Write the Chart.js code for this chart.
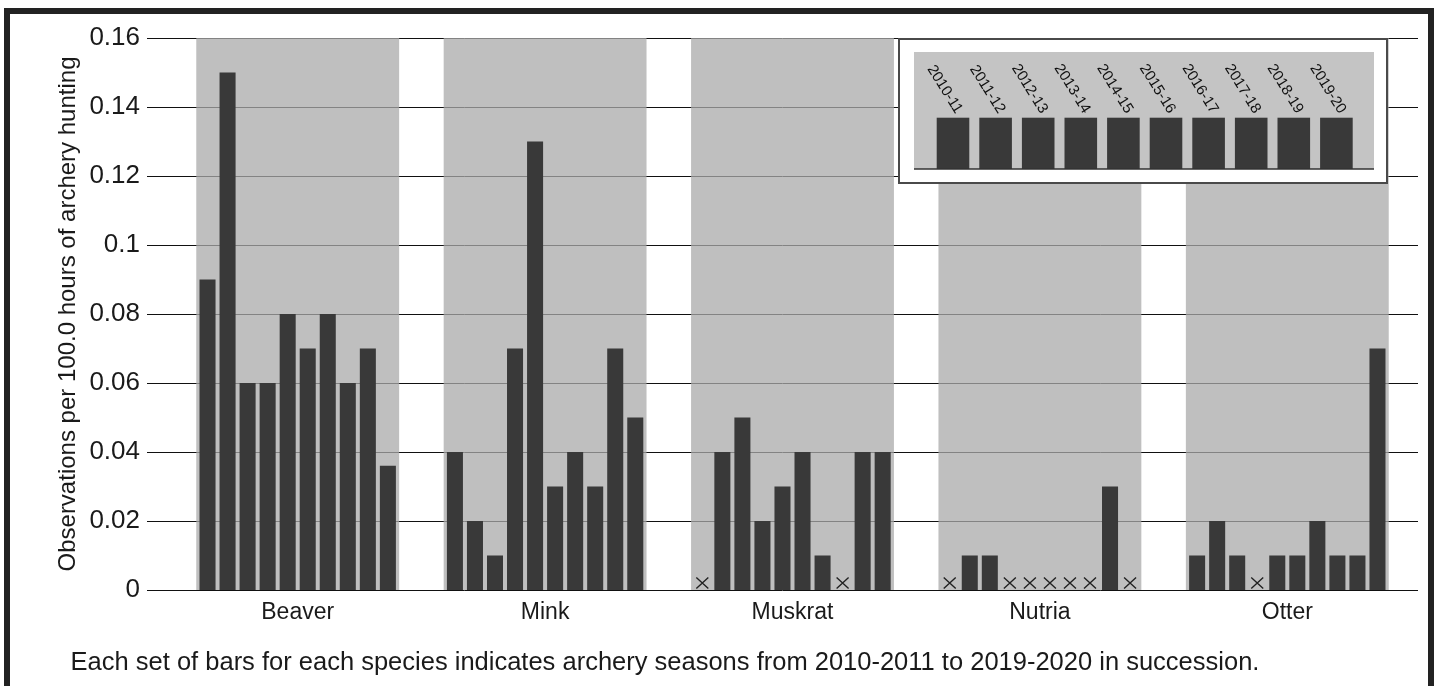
<!DOCTYPE html>
<html>
<head>
<meta charset="utf-8">
<title>Archery hunting observations</title>
<script src="https://cdn.jsdelivr.net/npm/chart.js@4.4.1/dist/chart.umd.min.js"></script>
<style>
  html, body { margin: 0; padding: 0; background: #fff; }
  #wrap { position: relative; width: 1438px; height: 686px; overflow: hidden; }
  #frame { position: absolute; left: 4px; top: 8px; width: 1418px; height: 700px;
           border: 6px solid #222; pointer-events: none; }
  canvas { display: block; }
</style>
</head>
<body>
<div id="wrap">
  <canvas id="chart" width="1438" height="686"></canvas>
  <div id="frame"></div>
</div>
<script>
// Species along the x axis
const species = ['Beaver', 'Mink', 'Muskrat', 'Nutria', 'Otter'];

// Archery seasons, one bar per season inside each species group
const seasons = ['2010-11', '2011-12', '2012-13', '2013-14', '2014-15',
                 '2015-16', '2016-17', '2017-18', '2018-19', '2019-20'];

// Observations per 100 hours, per species (Beaver, Mink, Muskrat, Nutria, Otter).
// null = no observations that season (marked with an ×)
const s2010_11 = [0.09,  0.04, null, null, 0.01];
const s2011_12 = [0.15,  0.02, 0.04, 0.01, 0.02];
const s2012_13 = [0.06,  0.01, 0.05, 0.01, 0.01];
const s2013_14 = [0.06,  0.07, 0.02, null, null];
const s2014_15 = [0.08,  0.13, 0.03, null, 0.01];
const s2015_16 = [0.07,  0.03, 0.04, null, 0.01];
const s2016_17 = [0.08,  0.04, 0.01, null, 0.02];
const s2017_18 = [0.06,  0.03, null, null, 0.01];
const s2018_19 = [0.07,  0.07, 0.04, 0.03, 0.01];
const s2019_20 = [0.036, 0.05, 0.04, null, 0.07];

const seasonValues = [s2010_11, s2011_12, s2012_13, s2013_14, s2014_15,
                      s2015_16, s2016_17, s2017_18, s2018_19, s2019_20];

// y axis ticks and labels
const yTicks = [0, 0.02, 0.04, 0.06, 0.08, 0.1, 0.12, 0.14, 0.16];
const yTickLabels = ['0', '0.02', '0.04', '0.06', '0.08', '0.1', '0.12', '0.14', '0.16'];

const yTitle = 'Observations per 100.0 hours of archery hunting';
const footnote = 'Each set of bars for each species indicates archery seasons from 2010-2011 to 2019-2020 in succession.';

const FONT = '"Liberation Sans", Arial, Helvetica, sans-serif';
const TEXT = '#1a1a1a';
const BAR = '#393939';
const BAND = 'rgba(170,170,170,0.75)';

Chart.defaults.font.family = FONT;
Chart.defaults.color = TEXT;

// Horizontal grid lines, slightly wider than the plotting area
const gridLines = {
  id: 'gridLines',
  beforeDatasetsDraw(chart) {
    const { ctx, chartArea, scales: { y } } = chart;
    ctx.save();
    ctx.strokeStyle = '#111';
    ctx.lineWidth = 1;
    y.ticks.forEach(t => {
      const py = Math.round(y.getPixelForValue(t.value)) + 0.5;
      ctx.beginPath();
      ctx.moveTo(chartArea.left - 27, py);
      ctx.lineTo(chartArea.right + 7, py);
      ctx.stroke();
    });
    ctx.restore();
  }
};

// × marks on the baseline for seasons with no observations
const noDataMarks = {
  id: 'noDataMarks',
  afterDatasetsDraw(chart) {
    const { ctx, scales: { y } } = chart;
    const base = y.getPixelForValue(0);
    ctx.save();
    ctx.strokeStyle = '#222';
    ctx.lineWidth = 1.4;
    chart.data.datasets.forEach((ds, di) => {
      if (!ds.season) return;
      const meta = chart.getDatasetMeta(di);
      ds.data.forEach((v, i) => {
        if (v !== null) return;
        const el = meta.data[i];
        if (!el) return;
        const cx = el.x, cy = base - 7;
        ctx.beginPath();
        ctx.moveTo(cx - 6, cy - 5.5); ctx.lineTo(cx + 6, cy + 5.5);
        ctx.moveTo(cx + 6, cy - 5.5); ctx.lineTo(cx - 6, cy + 5.5);
        ctx.stroke();
      });
    });
    ctx.restore();
  }
};

// Explanatory note under the species labels
const footnoteText = {
  id: 'footnoteText',
  afterDraw(chart) {
    const { ctx } = chart;
    ctx.save();
    ctx.fillStyle = TEXT;
    ctx.font = '25.5px ' + FONT;
    ctx.textAlign = 'center';
    ctx.textBaseline = 'middle';
    ctx.fillText(footnote, 665, 663);
    ctx.restore();
  }
};

// Season key in the upper right corner
const seasonKey = {
  id: 'seasonKey',
  afterDraw(chart) {
    const { ctx } = chart;
    ctx.save();
    // frame
    ctx.fillStyle = '#fff';
    ctx.fillRect(898, 38, 490, 146);
    ctx.strokeStyle = '#4a4a4a';
    ctx.lineWidth = 2;
    ctx.strokeRect(899, 39, 488, 144);
    // shaded panel
    ctx.fillStyle = '#c4c4c4';
    ctx.fillRect(914, 52, 460, 117);
    // bars and labels
    const barW = 32.6, step = 42.6, x0 = 936.7, top = 117.7, bottom = 169;
    seasons.forEach((s, i) => {
      const bx = x0 + i * step;
      ctx.fillStyle = BAR;
      ctx.fillRect(bx, top, barW, bottom - top);
      ctx.save();
      ctx.translate(bx + barW / 2 + 6, top - 5.5);
      ctx.rotate(58 * Math.PI / 180);
      ctx.fillStyle = '#111';
      ctx.font = '15px ' + FONT;
      ctx.textAlign = 'right';
      ctx.textBaseline = 'middle';
      ctx.fillText(s, 0, 0);
      ctx.restore();
    });
    // baseline
    ctx.strokeStyle = '#333';
    ctx.lineWidth = 1.5;
    ctx.beginPath();
    ctx.moveTo(914, 169);
    ctx.lineTo(1374, 169);
    ctx.stroke();
    ctx.restore();
  }
};

const datasets = [
  // grey band behind each species group
  {
    label: 'band',
    data: species.map(() => yTicks[yTicks.length - 1]),
    backgroundColor: BAND,
    grouped: false,
    barPercentage: 1,
    categoryPercentage: 0.82,
    order: 10
  },
  ...seasons.map((s, i) => ({
    label: s,
    season: true,
    data: seasonValues[i],
    backgroundColor: BAR,
    borderWidth: 0,
    barPercentage: 0.8,
    categoryPercentage: 0.81,
    order: 0
  }))
];

new Chart(document.getElementById('chart'), {
  type: 'bar',
  data: { labels: species, datasets },
  plugins: [gridLines, noDataMarks, footnoteText, seasonKey],
  options: {
    responsive: false,
    animation: false,
    events: [],
    layout: { padding: { top: 38, right: 27, left: 0, bottom: 0 } },
    plugins: {
      legend: { display: false },
      tooltip: { enabled: false },
      title: { display: false }
    },
    scales: {
      x: {
        type: 'category',
        grid: { display: false, drawTicks: false },
        border: { display: false },
        ticks: { font: { size: 23 }, color: TEXT, padding: 9, maxRotation: 0 },
        afterFit(scale) { scale.height = 96; }
      },
      y: {
        min: yTicks[0],
        max: yTicks[yTicks.length - 1],
        afterBuildTicks(scale) { scale.ticks = yTicks.map(v => ({ value: v })); },
        grid: { display: false, drawTicks: false },
        border: { display: false },
        ticks: {
          font: { size: 26 },
          color: TEXT,
          padding: 34,
          callback: (v) => yTickLabels[yTicks.findIndex(t => Math.abs(t - v) < 1e-9)]
        },
        title: {
          display: true,
          text: yTitle,
          font: { size: 24 },
          color: TEXT,
          padding: { top: 53.6, bottom: 0 }
        },
        afterFit(scale) {
          scale.width = 174;
          scale.paddingTop = 0;
          scale.paddingBottom = 0;
        }
      }
    }
  }
});
</script>
</body>
</html>
